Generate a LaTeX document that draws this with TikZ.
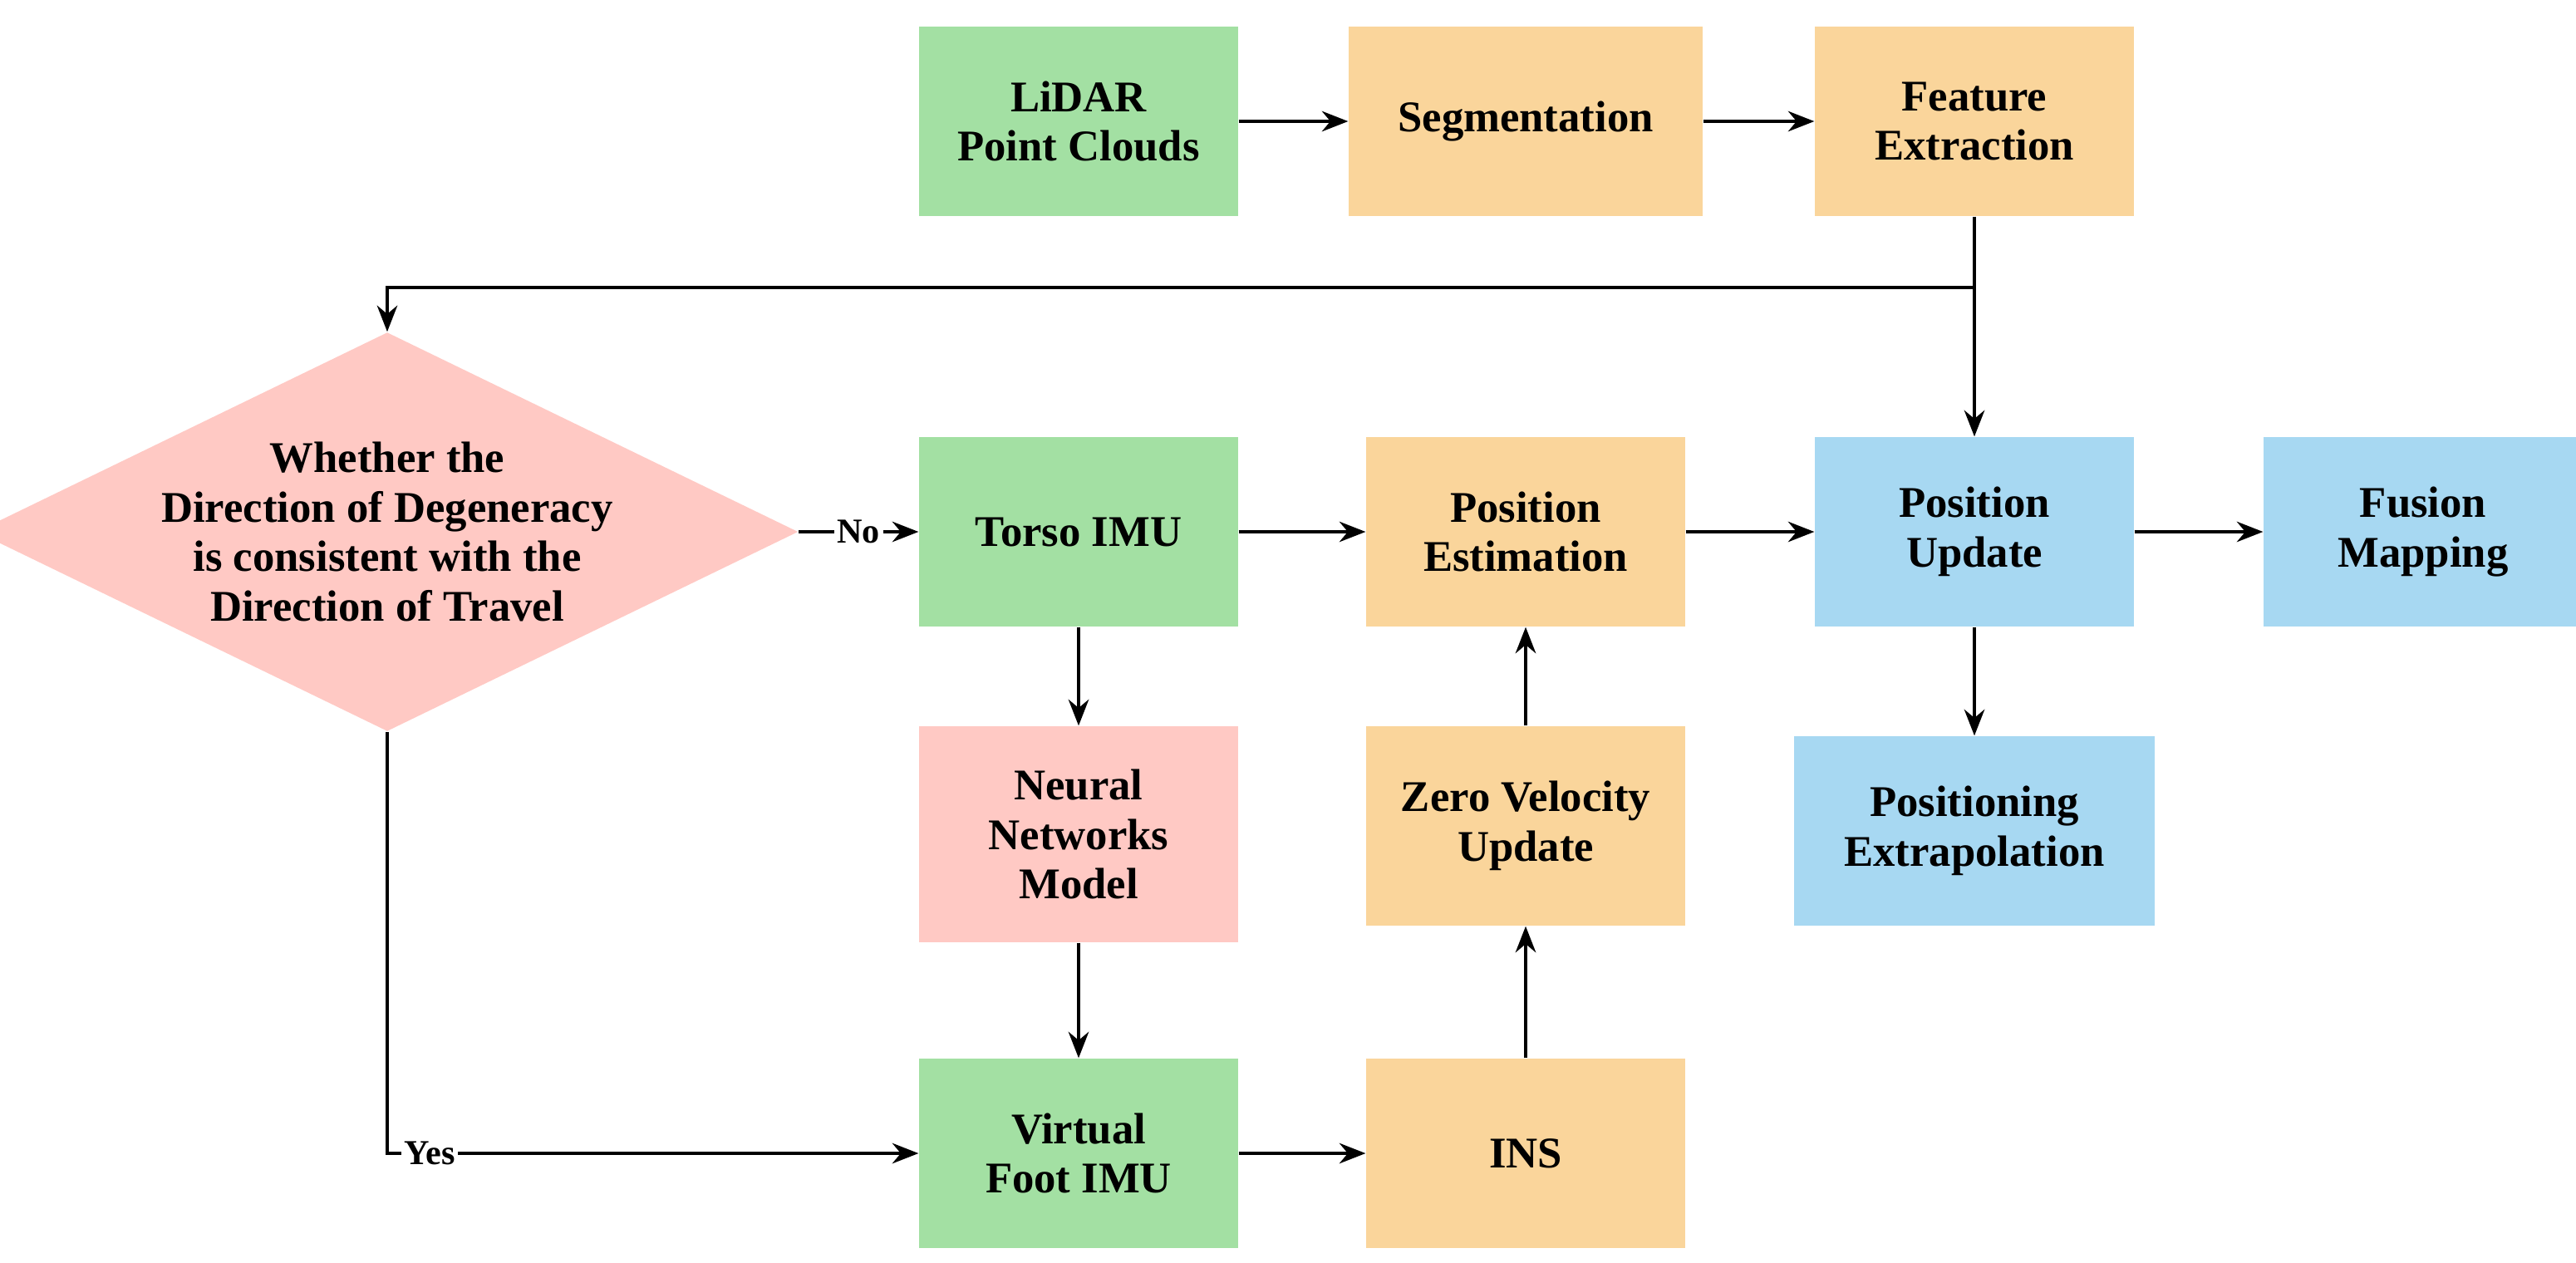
\documentclass[tikz,border=0pt]{standalone}
\usepackage{fontspec}
\setmainfont{Liberation Serif}
\usetikzlibrary{shapes.geometric,arrows.meta}
\definecolor{gbox}{HTML}{A3E0A3}
\definecolor{obox}{HTML}{FAD59B}
\definecolor{pbox}{HTML}{FFC9C4}
\definecolor{bbox}{HTML}{A7D8F2}
\tikzset{
  blk/.style={draw=none, minimum width=3.84cm, minimum height=2.28cm,
    align=center, font=\fontsize{15}{17}\selectfont\bfseries},
  arr/.style={-{Stealth[length=9pt,width=7pt]}, line width=0.9pt}
}
\begin{document}
\begin{tikzpicture}[x=0.02cm,y=-0.02cm]
  \useasboundingbox (0,0) rectangle (1550,759.5);

  \node[blk, fill=gbox] (lidar) at (649,73) {LiDAR\\Point Clouds};
  \node[blk, fill=obox, minimum width=4.26cm] (seg) at (918,73) {Segmentation};
  \node[blk, fill=obox] (feat) at (1188,73) {Feature\\Extraction};

  \node[diamond, aspect=2.06, fill=pbox, inner sep=0pt, minimum width=8.66cm,
    minimum height=4.2cm, align=center, font=\fontsize{15}{17}\selectfont\bfseries]
    (deg) at (233,320) {Whether the\\Direction of Degeneracy\\is consistent with the\\Direction of Travel};

  \node[blk, fill=gbox] (torso) at (649,320) {Torso IMU};
  \node[blk, fill=obox] (pest) at (918,320) {Position\\Estimation};
  \node[blk, fill=bbox] (pupd) at (1188,320) {Position\\Update};
  \node[blk, fill=bbox] (fusion) at (1458,320) {Fusion\\Mapping};

  \node[blk, fill=pbox, minimum height=2.6cm] (nn) at (649,502) {Neural\\Networks\\Model};
  \node[blk, fill=obox, minimum height=2.4cm] (zvu) at (918,497) {Zero Velocity\\Update};
  \node[blk, fill=bbox, minimum width=4.34cm] (pext) at (1188,500) {Positioning\\Extrapolation};

  \node[blk, fill=gbox] (vfoot) at (649,694) {Virtual\\Foot IMU};
  \node[blk, fill=obox] (ins) at (918,694) {INS};

  \coordinate (split) at (1188,173);
  \coordinate (turn) at (233,694);

  \draw[arr] (lidar) -- (seg);
  \draw[arr] (seg) -- (feat);
  \draw[arr] (feat) -- (pupd);
  \draw[arr] (split) -| (deg.north);
  \draw[arr] (deg.east) -- node[fill=white, inner sep=1pt, font=\fontsize{12}{14}\selectfont\bfseries] {No} (torso);
  \draw[arr] (deg.south) -- (turn) -- node[pos=0.08, fill=white, inner sep=1pt, font=\fontsize{12}{14}\selectfont\bfseries] {Yes} (vfoot);
  \draw[arr] (torso) -- (pest);
  \draw[arr] (pest) -- (pupd);
  \draw[arr] (pupd) -- (fusion);
  \draw[arr] (pupd) -- (pext);
  \draw[arr] (torso) -- (nn);
  \draw[arr] (nn) -- (vfoot);
  \draw[arr] (vfoot) -- (ins);
  \draw[arr] (ins) -- (zvu);
  \draw[arr] (zvu) -- (pest);
\end{tikzpicture}
\end{document}
